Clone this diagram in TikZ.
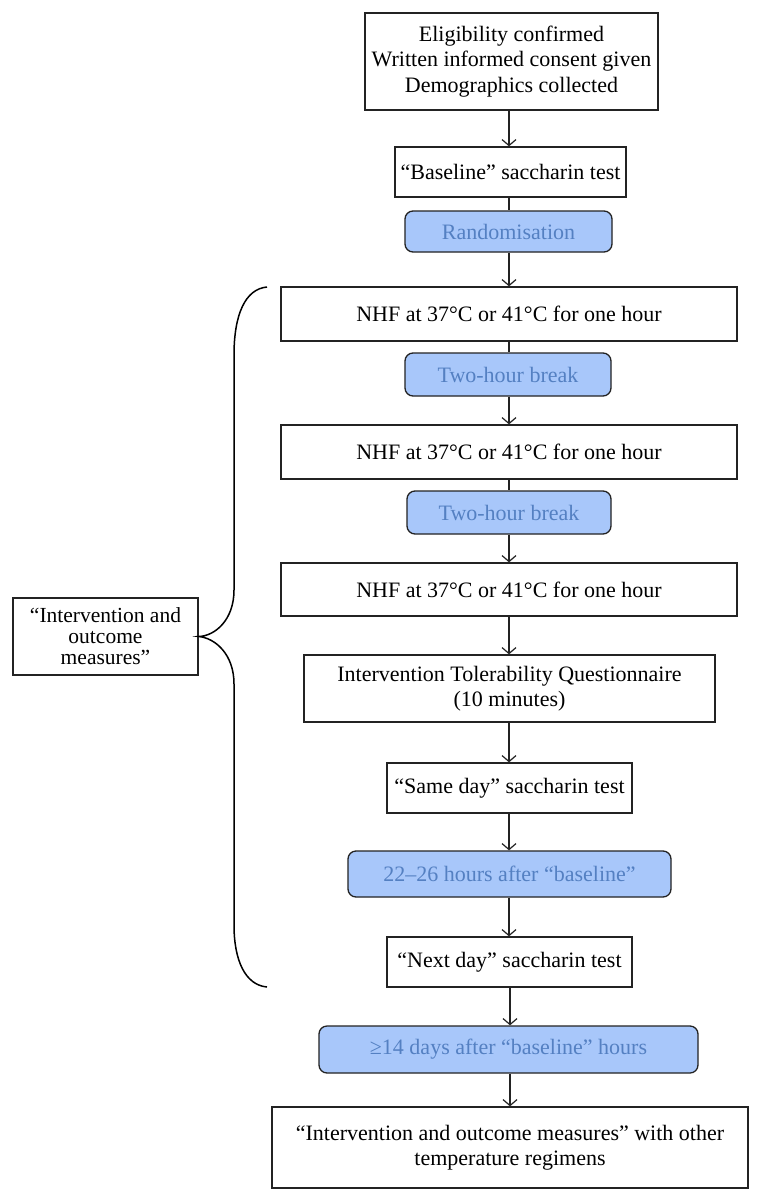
\documentclass[tikz,border=0pt]{standalone}
\usepackage{fontspec}
\setmainfont{Liberation Serif}
\usetikzlibrary{arrows.meta}
\definecolor{bluefill}{RGB}{168,199,250}
\definecolor{bluetext}{RGB}{84,128,194}
\definecolor{edge}{RGB}{35,35,35}
\tikzset{
  box/.style={draw=edge, line width=1.3pt, fill=white, align=center, inner sep=2pt,
    font=\fontsize{22}{25.5}\selectfont, text=black},
  bluebox/.style={draw=edge, line width=1.3pt, fill=bluefill, rounded corners=8pt, align=center,
    inner sep=2pt, font=\fontsize{22}{25.5}\selectfont, text=bluetext},
  arr/.style={draw=edge, line width=1.2pt, -{Straight Barb[length=6pt,width=14pt,line width=1.2pt]}},
  ln/.style={draw=edge, line width=1.2pt},
  brace/.style={draw=black, line width=1.5pt}
}
\begin{document}
\begin{tikzpicture}[x=1pt,y=-1pt]
\useasboundingbox (0,0) rectangle (762,1201);
\fill[white] (0,0) rectangle (762,1201);
\node[box, minimum width=293pt, minimum height=97pt] (top) at (511.5,61.5)
  {Eligibility confirmed\\Written informed consent given\\Demographics collected};
\node[box, minimum width=231pt, minimum height=50pt] (base) at (510.5,172) {``Baseline'' saccharin test};
\node[bluebox, minimum width=207pt, minimum height=41pt] (rand) at (508.5,231.5) {Randomisation};
\node[box, minimum width=456pt, minimum height=54pt] (nhf1) at (509,314) {NHF at 37°C or 41°C for one hour};
\node[bluebox, minimum width=206pt, minimum height=43pt] (brk1) at (508,374.5) {Two-hour break};
\node[box, minimum width=456pt, minimum height=54pt] (nhf2) at (509,452) {NHF at 37°C or 41°C for one hour};
\node[bluebox, minimum width=204pt, minimum height=43pt] (brk2) at (509,512.5) {Two-hour break};
\node[box, minimum width=456pt, minimum height=53pt] (nhf3) at (509,589.5) {NHF at 37°C or 41°C for one hour};
\node[box, minimum width=411pt, minimum height=67pt] (itq) at (509.5,688.5) {Intervention Tolerability Questionnaire\\(10 minutes)};
\node[box, minimum width=245pt, minimum height=50pt] (same) at (509.5,788) {``Same day'' saccharin test};
\node[bluebox, minimum width=323pt, minimum height=46pt] (hrs) at (509.5,874) {22--26 hours after ``baseline''};
\node[box, minimum width=245pt, minimum height=50pt] (next) at (509.5,962) {``Next day'' saccharin test};
\node[bluebox, minimum width=379pt, minimum height=47pt] (days) at (508.5,1049.5) {≥14 days after ``baseline'' hours};
\node[box, minimum width=476pt, minimum height=81pt] (last) at (510,1147.5) {``Intervention and outcome measures'' with other\\temperature regimens};
\node[box, minimum width=185pt, minimum height=77pt, inner sep=1pt, font=\fontsize{21.5}{21}\selectfont] (left) at (105.5,636.5)
  {``Intervention and\\outcome\\measures''};
% connectors
\draw[arr] (top.south -| nhf1) -- (base.north -| nhf1);
\draw[ln] (base.south -| nhf1) -- (rand.north -| nhf1);
\draw[arr] (rand.south -| nhf1) -- (nhf1.north);
\draw[ln] (nhf1.south) -- (brk1.north -| nhf1);
\draw[arr] (brk1.south -| nhf1) -- (nhf2.north);
\draw[ln] (nhf2.south) -- (brk2.north -| nhf2);
\draw[arr] (brk2.south -| nhf2) -- (nhf3.north);
\draw[arr] (nhf3.south) -- (itq.north -| nhf3);
\draw[arr] (itq.south -| nhf3) -- (same.north -| nhf3);
\draw[arr] (same.south -| nhf3) -- (hrs.north -| nhf3);
\draw[arr] (hrs.south -| nhf3) -- (next.north -| nhf3);
\draw[arr] (next.south -| last) -- (days.north -| last);
\draw[arr] (days.south -| last) -- (last.north);
% brace
\coordinate (btop) at (267,287);
\coordinate (bbot) at (267,987);
\draw[brace] (btop) .. controls (245,289) and (234,315) .. (234,355)
  -- (234,590) .. controls (234,620) and (215,636) .. (left.east)
  .. controls (215,638) and (234,654) .. (234,684)
  -- (234,925) .. controls (234,960) and (245,985) .. (bbot);
\end{tikzpicture}
\end{document}
